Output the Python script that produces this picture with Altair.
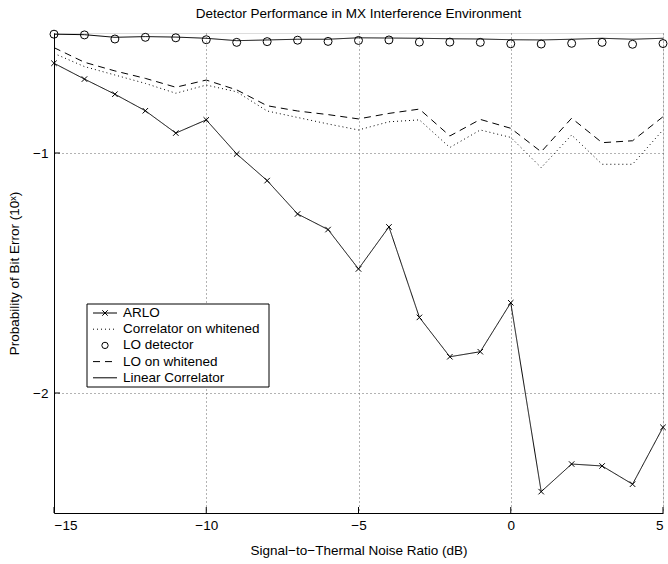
import altair as alt
import pandas as pd

# ---------------- data ----------------
snr = [-15, -14, -13, -12, -11, -10, -9, -8, -7, -6, -5, -4, -3, -2, -1, 0, 1, 2, 3, 4, 5]

series_names = ["ARLO", "Correlator on whitened", "LO detector", "LO on whitened", "Linear Correlator"]

arlo = [-0.626, -0.692, -0.755, -0.824, -0.917, -0.862, -1.004, -1.115, -1.254, -1.319, -1.483,
        -1.308, -1.685, -1.849, -1.828, -1.624, -2.411, -2.296, -2.304, -2.380, -2.143]
corr_whitened = [-0.585, -0.640, -0.675, -0.710, -0.751, -0.717, -0.745, -0.825, -0.852, -0.879, -0.904,
                 -0.870, -0.862, -0.977, -0.904, -0.935, -1.061, -0.925, -1.047, -1.047, -0.904]
lo_detector = [-0.505, -0.508, -0.525, -0.518, -0.520, -0.528, -0.539, -0.536, -0.530, -0.535, -0.531,
               -0.529, -0.538, -0.538, -0.539, -0.545, -0.546, -0.543, -0.539, -0.547, -0.544]
lo_whitened = [-0.561, -0.622, -0.658, -0.689, -0.726, -0.696, -0.737, -0.803, -0.825, -0.840, -0.858,
               -0.835, -0.817, -0.929, -0.860, -0.897, -0.995, -0.855, -0.957, -0.949, -0.849]
linear_corr = [-0.505, -0.507, -0.518, -0.515, -0.517, -0.522, -0.532, -0.529, -0.526, -0.526, -0.520,
               -0.521, -0.522, -0.524, -0.525, -0.528, -0.529, -0.526, -0.522, -0.526, -0.522]

x_ticks = [-15, -10, -5, 0, 5]
y_ticks = [-1, -2]

title_text = "Detector Performance in MX Interference Environment"
x_title = "Signal\u2212to\u2212Thermal Noise Ratio (dB)"
y_title = "Probability of Bit Error (10\u02e3)"

# ---------------- build tables ----------------
rows = []
for name, vals in zip(series_names, [arlo, corr_whitened, lo_detector, lo_whitened, linear_corr]):
    for xv, yv in zip(snr, vals):
        rows.append({"snr": xv, "pe": yv, "series": name})
df = pd.DataFrame(rows)

xtick_df = pd.DataFrame({"snr": x_ticks})
ytick_df = pd.DataFrame({"pe": y_ticks})
leg_df = pd.DataFrame({"series": series_names, "row": list(range(len(series_names)))})
box_df = pd.DataFrame({"a": [0]})

W, H = 609, 480
FONT = "Liberation Sans"
FS = 13.5
X_PATH = "M-1,-1L1,1M-1,1L1,-1"

line_names = ["ARLO", "Correlator on whitened", "LO on whitened", "Linear Correlator"]
dash_scale = alt.Scale(domain=line_names, range=[[1, 0], [1, 3], [7, 5], [1, 0]])

x_scale = alt.Scale(domain=[-15, 5], nice=False, zero=False)
y_scale = alt.Scale(domain=[-2.5, -0.5], nice=False, zero=False)

axis_common = dict(
    domainColor="black", domainWidth=1, ticks=False, tickSize=0,
    grid=True, gridColor="#666", gridDash=[1, 3], gridOpacity=1, gridWidth=1,
    labelFont=FONT, labelFontSize=FS, labelColor="black",
    titleFont=FONT, titleFontSize=FS, titleFontWeight="normal", titleColor="black",
    format="d",
)

x_enc = alt.X("snr:Q", scale=x_scale,
              axis=alt.Axis(values=x_ticks, title=x_title, labelPadding=5, titlePadding=12,
                            **axis_common))
y_enc = alt.Y("pe:Q", scale=y_scale,
              axis=alt.Axis(values=y_ticks, title=y_title, labelPadding=6, titlePadding=11,
                            **axis_common))

base = alt.Chart(df)

lines = base.transform_filter(
    alt.FieldOneOfPredicate(field="series", oneOf=line_names)
).mark_line(color="black", strokeWidth=1, clip=False).encode(
    x=x_enc, y=y_enc,
    strokeDash=alt.StrokeDash("series:N", scale=dash_scale, legend=None),
    detail="series:N",
    order="snr:Q",
)

arlo_pts = base.transform_filter(alt.datum.series == "ARLO").mark_point(
    shape=X_PATH, size=30, filled=False, color="black", strokeWidth=1, opacity=1, clip=False
).encode(x="snr:Q", y="pe:Q")

lo_pts = base.transform_filter(alt.datum.series == "LO detector").mark_point(
    shape="circle", size=64, filled=False, color="black", strokeWidth=1, opacity=1, clip=False
).encode(x="snr:Q", y="pe:Q")

xticks = alt.Chart(xtick_df).mark_rule(color="black", strokeWidth=1).encode(
    x="snr:Q", y=alt.value(H), y2=alt.value(H - 6))
yticks = alt.Chart(ytick_df).mark_rule(color="black", strokeWidth=1).encode(
    y="pe:Q", x=alt.value(0), x2=alt.value(6))

main = alt.layer(lines, arlo_pts, lo_pts, xticks, yticks)

# ---------------- legend ----------------
leg_y = alt.Y("row:Q", scale=alt.Scale(domain=[0, 4], range=[280, 344.8]), axis=None)

leg_box = alt.Chart(box_df).mark_rect(fill="white", stroke="black", strokeWidth=1).encode(
    x=alt.value(33), x2=alt.value(215), y=alt.value(271), y2=alt.value(354))

leg_base = alt.Chart(leg_df)
leg_lines = leg_base.transform_filter(
    alt.FieldOneOfPredicate(field="series", oneOf=line_names)
).mark_rule(color="black", strokeWidth=1).encode(
    x=alt.value(39), x2=alt.value(63), y=leg_y,
    strokeDash=alt.StrokeDash("series:N", scale=dash_scale, legend=None))
leg_x = leg_base.transform_filter(alt.datum.series == "ARLO").mark_point(
    shape=X_PATH, size=30, filled=False, color="black", strokeWidth=1, opacity=1
).encode(x=alt.value(51), y=leg_y)
leg_o = leg_base.transform_filter(alt.datum.series == "LO detector").mark_point(
    shape="circle", size=40, filled=False, color="black", strokeWidth=1, opacity=1
).encode(x=alt.value(51), y=leg_y)
leg_text = leg_base.mark_text(align="left", baseline="middle", font=FONT, fontSize=FS, color="black").encode(
    x=alt.value(69), y=leg_y, text="series:N")

legend = alt.layer(leg_box, leg_lines, leg_x, leg_o, leg_text)

chart = alt.layer(main, legend).resolve_scale(y="independent").properties(
    width=W, height=H,
    padding={"left": 54, "top": 33, "right": 5, "bottom": 51},
    autosize=alt.AutoSizeParams(type="none"),
    title=alt.Title(title_text, font=FONT, fontSize=FS, fontWeight="normal", color="black",
                    anchor="middle", baseline="bottom", offset=10, dy=16),
).configure_view(stroke=None).configure_axis(
    titleFontWeight="normal",
).configure(background="white")

chart.save("out.html", embed_options={"renderer": "svg", "actions": False})
